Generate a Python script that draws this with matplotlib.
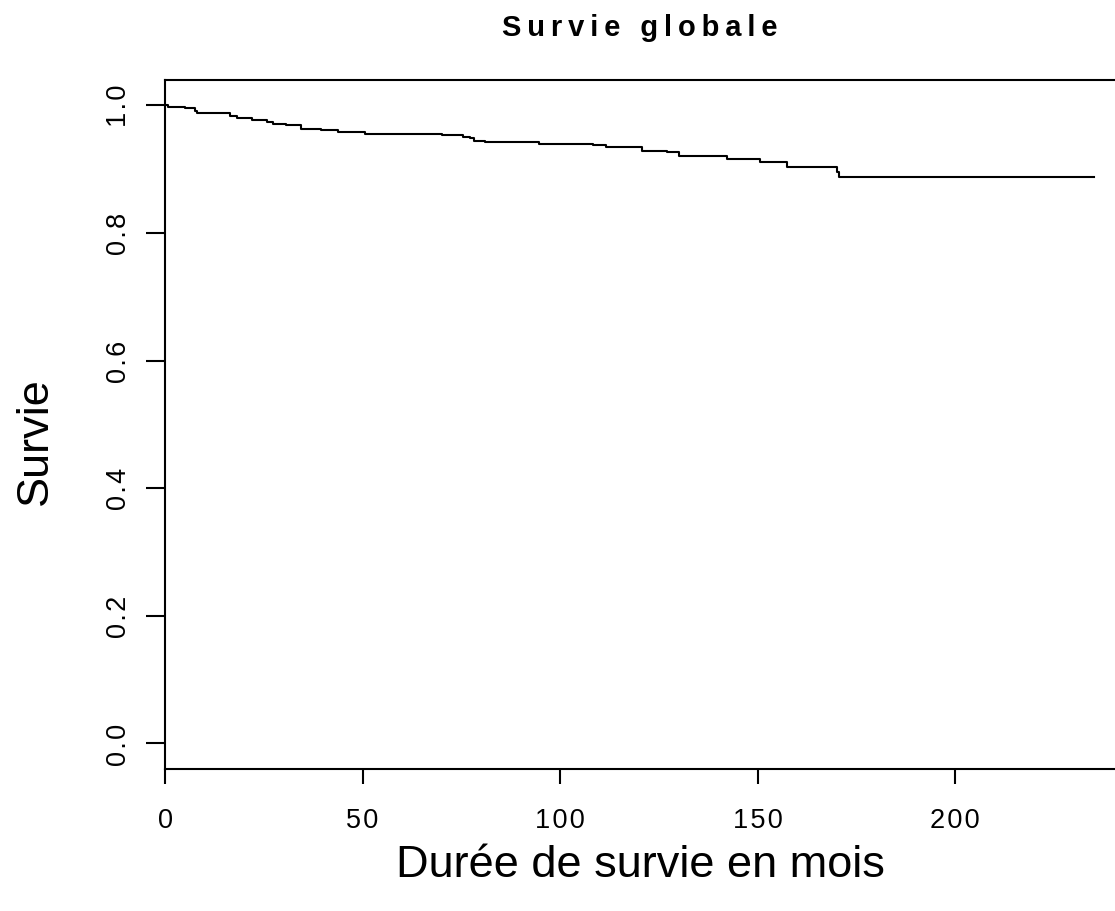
import matplotlib
matplotlib.use("Agg")
import matplotlib.pyplot as plt

# courbe de survie (Kaplan-Meier)
temps = [0, 0.8, 5.1, 7.5, 8.1, 16.5, 18.3, 22.1, 25.9, 27.4, 30.6, 34.3, 39.6,
         43.8, 50.6, 70.0, 75.5, 77.2, 78.2, 81.1, 94.7, 108.4, 111.6, 120.7,
         127.0, 130.1, 142.2, 150.6, 157.4, 170.0, 170.6, 235.3]
survie = [1.0, 0.9975, 0.995, 0.9917, 0.9875, 0.983, 0.9797, 0.9765, 0.974,
          0.9713, 0.9687, 0.9635, 0.9609, 0.9583, 0.9557, 0.953, 0.9505, 0.948,
          0.9447, 0.942, 0.9395, 0.9374, 0.9342, 0.929, 0.9264, 0.9212, 0.916,
          0.9107, 0.903, 0.895, 0.8868, 0.8868]

xticks = [0, 50, 100, 150, 200]
yticks = [0.0, 0.2, 0.4, 0.6, 0.8, 1.0]

fam = ['Liberation Sans', 'DejaVu Sans']
plt.rcParams['font.family'] = fam


def espace(s, sep='\u200a'):
    return sep.join(s)


fig = plt.figure(figsize=(11.15, 9.12), dpi=100)
ax = fig.add_axes([0.148, 0.1557, 0.852, 0.7558])

ax.step(temps, survie, where='post', color='black', lw=1.5)

ax.set_xlim(0, 240.5)
ax.set_ylim(-0.04, 1.04)
ax.spines['right'].set_visible(False)
for s in ['left', 'bottom', 'top']:
    ax.spines[s].set_linewidth(1.5)

ax.set_xticks(xticks)
ax.set_xticklabels([espace(str(v)) for v in xticks])
ax.set_yticks(yticks)
ax.set_yticklabels([espace('%.1f' % v) for v in yticks], rotation=90, va='center')
ax.tick_params(axis='x', length=11, width=1.5, pad=16, labelsize=19.5)
ax.tick_params(axis='y', length=14, width=1.5, pad=10, labelsize=19.5)

fig.text(0.574, 1 - 28 / 912, espace('Survie globale', '\u2009'), ha='center', va='center',
         fontsize=21, fontweight='bold')
fig.text(0.574, 1 - 866 / 912, 'Durée de survie en mois', ha='center', va='center', fontsize=32.5)
fig.text(0.032, 1 - 441 / 912, 'Survie', ha='center', va='center', rotation=90, fontsize=32.5)

fig.savefig('out.png', dpi=100)
